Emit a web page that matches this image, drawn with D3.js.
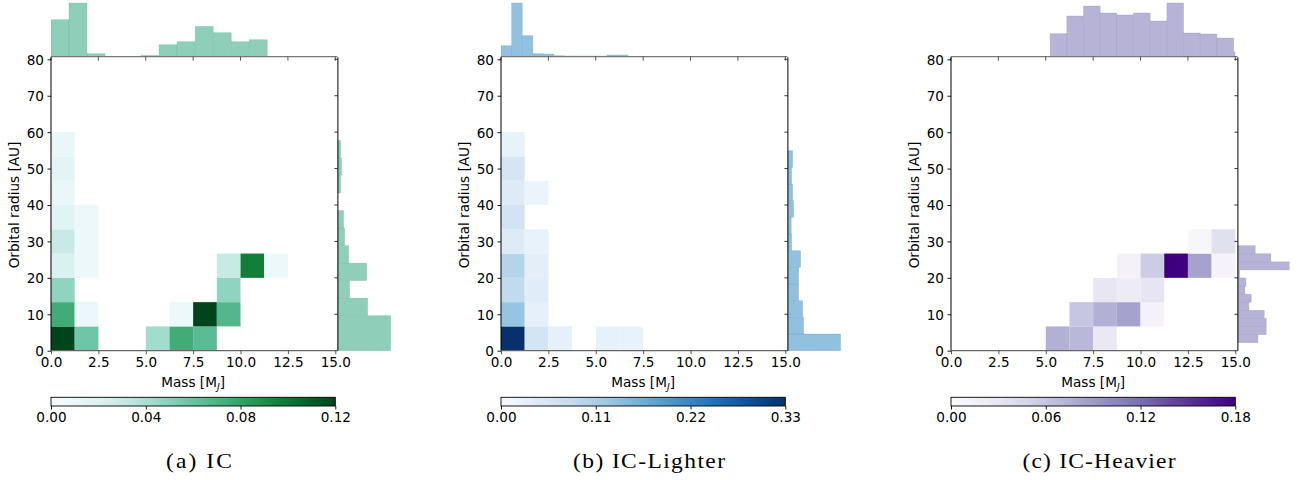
<!DOCTYPE html>
<html>
<head>
<meta charset="utf-8">
<script src="https://cdn.jsdelivr.net/npm/d3@7"></script>
<style>
  html, body { margin: 0; padding: 0; background: #fff; }
  svg { display: block; }
  text { fill: #000; }
</style>
</head>
<body>
<svg id="chart" width="1302" height="480"></svg>
<script>
// ---------------- DATA ----------------
const massBins   = [0, 1.25, 2.5, 3.75, 5, 6.25, 7.5, 8.75, 10, 11.25, 12.5, 13.75, 15];
const radiusBins = [0, 6.67, 13.33, 20, 26.67, 33.33, 40, 46.67, 53.33, 60];
const massTicks   = [0, 2.5, 5, 7.5, 10, 12.5, 15];
const radiusTicks = [0, 10, 20, 30, 40, 50, 60, 70, 80];
const captions = ["(a) IC", "(b) IC-Lighter", "(c) IC-Heavier"];
const cbarTicksIC      = [0, 0.04, 0.08, 0.12];
const cbarTicksLighter = [0, 0.11, 0.22, 0.33];
const cbarTicksHeavier = [0, 0.06, 0.12, 0.18];

// 2D histogram values (rows: radius bins bottom->top, cols: mass bins)
const heatIC = [
  [0.12, 0.058, 0, 0, 0.042, 0.075, 0.065, 0, 0, 0, 0, 0],
  [0.075, 0.01, 0, 0, 0, 0.009, 0.12, 0.068, 0, 0, 0, 0],
  [0.048, 0, 0, 0, 0, 0, 0, 0.048, 0, 0, 0, 0],
  [0.022, 0.009, 0, 0, 0, 0, 0, 0.03, 0.097, 0.009, 0, 0],
  [0.03, 0.009, 0, 0, 0, 0, 0, 0, 0, 0, 0, 0],
  [0.017, 0.009, 0, 0, 0, 0, 0, 0, 0, 0, 0, 0],
  [0.011, 0, 0, 0, 0, 0, 0, 0, 0, 0, 0, 0],
  [0.016, 0, 0, 0, 0, 0, 0, 0, 0, 0, 0, 0],
  [0.011, 0, 0, 0, 0, 0, 0, 0, 0, 0, 0, 0]
];
const heatLighter = [
  [0.33, 0.06, 0.028, 0, 0.026, 0.024, 0, 0, 0, 0, 0, 0],
  [0.13, 0.028, 0, 0, 0, 0, 0, 0, 0, 0, 0, 0],
  [0.085, 0.038, 0, 0, 0, 0, 0, 0, 0, 0, 0, 0],
  [0.10, 0.033, 0, 0, 0, 0, 0, 0, 0, 0, 0, 0],
  [0.042, 0.024, 0, 0, 0, 0, 0, 0, 0, 0, 0, 0],
  [0.062, 0, 0, 0, 0, 0, 0, 0, 0, 0, 0, 0],
  [0.042, 0.02, 0, 0, 0, 0, 0, 0, 0, 0, 0, 0],
  [0.057, 0, 0, 0, 0, 0, 0, 0, 0, 0, 0, 0],
  [0.024, 0, 0, 0, 0, 0, 0, 0, 0, 0, 0, 0]
];
const heatHeavier = [
  [0, 0, 0, 0, 0.075, 0.07, 0.027, 0, 0, 0, 0, 0],
  [0, 0, 0, 0, 0, 0.06, 0.075, 0.085, 0.014, 0, 0, 0],
  [0, 0, 0, 0, 0, 0, 0.03, 0.024, 0.032, 0, 0, 0],
  [0, 0, 0, 0, 0, 0, 0, 0.014, 0.055, 0.18, 0.085, 0.012],
  [0, 0, 0, 0, 0, 0, 0, 0, 0, 0, 0.008, 0.037],
  [0, 0, 0, 0, 0, 0, 0, 0, 0, 0, 0, 0],
  [0, 0, 0, 0, 0, 0, 0, 0, 0, 0, 0, 0],
  [0, 0, 0, 0, 0, 0, 0, 0, 0, 0, 0, 0],
  [0, 0, 0, 0, 0, 0, 0, 0, 0, 0, 0, 0]
];

// marginal histograms (bin edges in data units, relative counts)
const massEdgesIC = [0, 0.95, 1.90, 2.85, 3.80, 4.75, 5.70, 6.65, 7.61, 8.56, 9.51, 10.46, 11.41];
const massCountsIC = [37, 53.7, 3, 0.4, 0.4, 1.3, 12, 15, 30.3, 24, 15, 17];
const radEdgesIC = [0, 9.62, 14.43, 19.24, 24.04, 28.86, 33.67, 38.48, 43.30, 48.11, 52.92, 57.74];
const radCountsIC = [52.7, 29.7, 11.7, 28.7, 10.7, 6.7, 5.7, 0, 2.7, 3.7, 2.7];

const massEdgesLighter = [0, 0.56, 1.12, 1.68, 2.24, 2.79, 3.35, 3.91, 4.47, 5.03, 5.59, 6.15, 6.70];
const massCountsLighter = [11, 53.7, 21, 3, 2.7, 1, 0.7, 0.7, 0.7, 0.7, 1.7, 1.7];
const radEdgesLighter = [0, 4.58, 9.15, 13.73, 18.30, 22.88, 27.45, 32.03, 36.61, 41.18, 45.76, 50.33, 54.91];
const radCountsLighter = [52.7, 15.7, 14.7, 10.7, 10.7, 12.7, 3.7, 3.3, 5.7, 4.7, 3.7, 4.7];

const massEdgesHeavier = [5.23, 6.11, 6.99, 7.87, 8.75, 9.63, 10.51, 11.39, 12.27, 13.15, 14.03, 14.91, 15.79];
const massCountsHeavier = [23, 40.7, 50.7, 43.7, 41.7, 43.7, 35.7, 53.7, 23.7, 22.7, 18.7, 4.7];
const radEdgesHeavier = [2.2, 4.42, 6.64, 8.86, 11.08, 13.3, 15.52, 17.74, 19.96, 22.18, 24.4, 26.62, 28.84];
const radCountsHeavier = [20, 28.3, 28.3, 26.3, 11, 13.3, 7, 8, 1.7, 51.3, 33, 17.3];

// ---------------- BUILD ----------------
const panels = [
  { heat: heatIC, vmax: 0.12, cticks: cbarTicksIC, interp: d3.interpolateBuGn,
    mEdges: massEdgesIC, mCounts: massCountsIC, rEdges: radEdgesIC, rCounts: radCountsIC,
    histFill: "#8fcfb9", histEdge: "#5fb592", capLen: 66 },
  { heat: heatLighter, vmax: 0.33, cticks: cbarTicksLighter, interp: d3.interpolateBlues,
    mEdges: massEdgesLighter, mCounts: massCountsLighter, rEdges: radEdgesLighter, rCounts: radCountsLighter,
    histFill: "#92c1df", histEdge: "#5e9ccb", capLen: 152 },
  { heat: heatHeavier, vmax: 0.18, cticks: cbarTicksHeavier, interp: d3.interpolatePurples,
    mEdges: massEdgesHeavier, mCounts: massCountsHeavier, rEdges: radEdgesHeavier, rCounts: radCountsHeavier,
    histFill: "#b6b3d6", histEdge: "#8f8cbf", capLen: 153 }
];

const svg = d3.select("#chart");
const defs = svg.append("defs");

const PANEL_STEP = 450, X0BASE = 51, PW = 284.3;
const YTOP = 59.3, YBOT = 350.7;
const FS = 13.6;
const SANS = "'DejaVu Sans', sans-serif";
const SERIF = "'Liberation Serif', 'DejaVu Serif', serif";
const CAP_SX = 1.12;

panels.forEach((p, pi) => {
  const X0 = X0BASE + pi * PANEL_STEP, X1 = X0 + PW;
  const g = svg.append("g").style("font-family", SANS);
  const x = d3.scaleLinear().domain([0, 15]).range([X0, X1]);
  const y = d3.scaleLinear().domain([0, 80]).range([YBOT, YTOP]);
  const color = d3.scaleSequential(p.interp).domain([0, p.vmax]);

  const clipId = "clip" + pi;
  defs.append("clipPath").attr("id", clipId)
    .append("rect").attr("x", X0).attr("y", 0).attr("width", PW).attr("height", 60);

  // heatmap cells
  const cells = [];
  p.heat.forEach((row, ri) => row.forEach((v, ci) => { if (v > 0) cells.push({ ri, ci, v }); }));
  g.append("g").selectAll("rect").data(cells).join("rect")
    .attr("x", d => x(massBins[d.ci]))
    .attr("y", d => y(radiusBins[d.ri + 1]))
    .attr("width", d => x(massBins[d.ci + 1]) - x(massBins[d.ci]))
    .attr("height", d => y(radiusBins[d.ri]) - y(radiusBins[d.ri + 1]))
    .attr("fill", d => color(d.v));

  // top marginal histogram
  const topBase = 56.7;
  const hTop = d3.scaleLinear().domain([0, 53.7]).range([topBase, 3]);
  const mBins = p.mCounts.map((c, i) => ({ a: p.mEdges[i], b: p.mEdges[i + 1], c }));
  g.append("g").attr("clip-path", `url(#${clipId})`).selectAll("rect").data(mBins).join("rect")
    .attr("x", d => x(d.a)).attr("width", d => x(d.b) - x(d.a))
    .attr("y", d => hTop(d.c)).attr("height", d => topBase - hTop(d.c))
    .attr("fill", p.histFill).attr("stroke", p.histEdge).attr("stroke-width", 0.6)
    .attr("stroke-opacity", 0.45);

  // right marginal histogram
  const rBase = X1 + 2.6;
  const hRight = d3.scaleLinear().domain([0, 53.7]).range([rBase, rBase + 53.7]);
  const rBins = p.rCounts.map((c, i) => ({ a: p.rEdges[i], b: p.rEdges[i + 1], c })).filter(d => d.c > 0);
  g.append("g").selectAll("rect").data(rBins).join("rect")
    .attr("x", rBase).attr("width", d => hRight(d.c) - rBase)
    .attr("y", d => y(d.b)).attr("height", d => y(d.a) - y(d.b))
    .attr("fill", p.histFill).attr("stroke", p.histEdge).attr("stroke-width", 0.6)
    .attr("stroke-opacity", 0.45);

  // top marginal spine + ticks
  g.append("line").attr("x1", X0).attr("x2", X1 + 2).attr("y1", topBase).attr("y2", topBase)
    .attr("stroke", "#777").attr("stroke-width", 1.2);
  g.append("g").selectAll("line").data(massTicks).join("line")
    .attr("x1", d => x(d)).attr("x2", d => x(d)).attr("y1", topBase).attr("y2", topBase + 4)
    .attr("stroke", "#444").attr("stroke-width", 0.9);

  // right marginal spine + ticks
  g.append("line").attr("x1", rBase).attr("x2", rBase).attr("y1", YTOP - 2).attr("y2", YBOT)
    .attr("stroke", "#000").attr("stroke-width", 1);
  g.append("g").selectAll("line").data(radiusTicks).join("line")
    .attr("x1", rBase - 3.5).attr("x2", rBase).attr("y1", d => y(d)).attr("y2", d => y(d))
    .attr("stroke", "#222").attr("stroke-width", 0.9);

  // main axes spines
  g.append("line").attr("x1", X0).attr("x2", X0).attr("y1", YTOP - 2).attr("y2", YBOT)
    .attr("stroke", "#000").attr("stroke-width", 1);
  g.append("line").attr("x1", X0).attr("x2", X1).attr("y1", YBOT).attr("y2", YBOT)
    .attr("stroke", "#666").attr("stroke-width", 1.2);

  // left axis
  const ya = g.append("g").attr("transform", `translate(${X0},0)`)
    .call(d3.axisLeft(y).tickValues(radiusTicks).tickSize(3.5).tickSizeOuter(0).tickPadding(3.5));
  ya.select(".domain").remove();
  ya.attr("font-family", null).style("font-family", SANS);
  ya.selectAll("line").attr("stroke", "#000").attr("stroke-width", 0.9);
  ya.selectAll("text").attr("font-size", FS).attr("dy", "0.36em");

  // bottom axis
  const xa = g.append("g").attr("transform", `translate(0,${YBOT})`)
    .call(d3.axisBottom(x).tickValues(massTicks).tickFormat(d3.format(".1f")).tickSize(3.5).tickSizeOuter(0).tickPadding(3.2));
  xa.select(".domain").remove();
  xa.attr("font-family", null).style("font-family", SANS);
  xa.selectAll("line").attr("stroke", "#444").attr("stroke-width", 0.9);
  xa.selectAll("text").attr("font-size", FS);

  // axis labels
  const xl = g.append("text").attr("x", (X0 + X1) / 2).attr("y", 387.3)
    .attr("text-anchor", "middle").attr("font-size", FS);
  xl.append("tspan").text("Mass [M");
  xl.append("tspan").attr("font-size", FS * 0.7).attr("dy", 3).attr("font-style", "italic").text("J");
  xl.append("tspan").attr("dy", -3).text("]");

  g.append("text").attr("transform", `translate(${X0 - 32.5},${(YTOP + YBOT) / 2}) rotate(-90)`)
    .attr("text-anchor", "middle").attr("font-size", FS).text("Orbital radius [AU]");

  // colorbar
  const gradId = "grad" + pi;
  const grad = defs.append("linearGradient").attr("id", gradId).attr("x1", "0%").attr("x2", "100%");
  d3.range(0, 1.0001, 0.05).forEach(t => grad.append("stop").attr("offset", t).attr("stop-color", p.interp(t)));
  const cb = d3.scaleLinear().domain([0, p.vmax]).range([X0, X1]);
  const CBY = 397.3, CBH = 8.7;
  g.append("rect").attr("x", X0).attr("y", CBY).attr("width", PW).attr("height", CBH)
    .attr("fill", `url(#${gradId})`).attr("stroke", "#000").attr("stroke-width", 0.9);
  const ca = g.append("g").attr("transform", `translate(0,${CBY + CBH})`)
    .call(d3.axisBottom(cb).tickValues(p.cticks).tickFormat(d3.format(".2f")).tickSize(3.5).tickSizeOuter(0).tickPadding(3));
  ca.select(".domain").remove();
  ca.attr("font-family", null).style("font-family", SANS);
  ca.selectAll("line").attr("stroke", "#000").attr("stroke-width", 0.9);
  ca.selectAll("text").attr("font-size", FS);

  // caption (serif)
  g.append("text")
    .attr("transform", `translate(${X0 + 148},467.5) scale(${CAP_SX},1)`)
    .attr("text-anchor", "middle")
    .style("font-family", SERIF).attr("font-size", 21)
    .attr("textLength", p.capLen / CAP_SX).attr("lengthAdjust", "spacing")
    .text(captions[pi]);
});
</script>
</body>
</html>
